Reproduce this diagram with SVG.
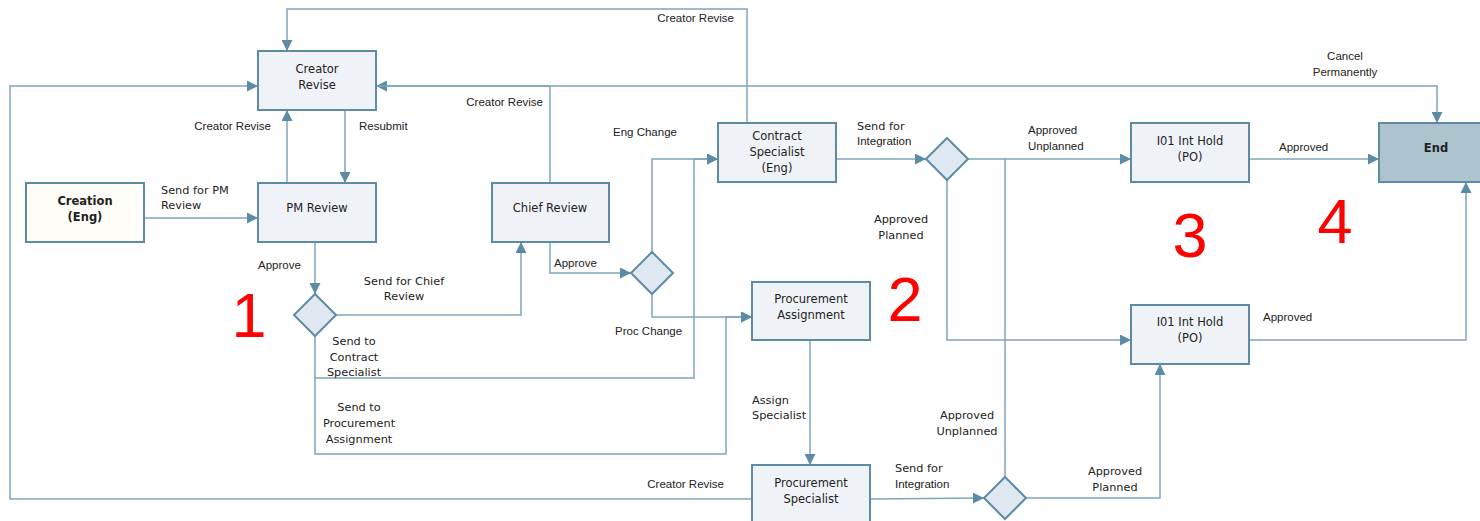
<svg xmlns="http://www.w3.org/2000/svg" width="1480" height="521" viewBox="0 0 1480 521">
<style>
.n rect{fill:#eff3f8;stroke:#5e8ba4;stroke-width:2}
.n polygon{fill:#dfe8f0;stroke:#5e8ba4;stroke-width:2}
.nt{font-family:"DejaVu Sans",Verdana,sans-serif;font-size:11.5px;fill:#222;text-anchor:middle}
.b{font-weight:bold}
.c path{fill:none;stroke:#7fa5bb;stroke-width:1.5}
.la{font-family:"Liberation Sans",Arial,sans-serif;font-size:11.5px;fill:#222}
.lv{font-family:"DejaVu Sans",Verdana,sans-serif;font-size:11.3px;fill:#222}
.m{text-anchor:middle}
.e{text-anchor:end}
.red{font-family:"Liberation Sans",Arial,sans-serif;font-size:63px;fill:#ff0000;text-anchor:middle}
</style>
<defs>
<marker id="arr" viewBox="0 0 10 10" refX="10" refY="5" markerWidth="11" markerHeight="11" markerUnits="userSpaceOnUse" orient="auto"><path d="M0,0 L10,5 L0,10 z" fill="#5b8ba5"/></marker>
</defs>
<rect width="1480" height="521" fill="#ffffff"/>
<g class="c" id="connectors">
<path d="M747,123 V9 H287 V51" marker-end="url(#arr)"/>
<path d="M550,183 V86 H376" marker-end="url(#arr)"/>
<path d="M376,86 H1437 V123" marker-end="url(#arr)"/>
<path d="M752,499 H10 V86 H258" marker-end="url(#arr)"/>
<path d="M345,110 V183" marker-end="url(#arr)"/>
<path d="M287,183 V110" marker-end="url(#arr)"/>
<path d="M144,218 H258" marker-end="url(#arr)"/>
<path d="M315,242 V294" marker-end="url(#arr)"/>
<path d="M336,315 H521 V242" marker-end="url(#arr)"/>
<path d="M315,336 V378 H694 V159 H718" marker-end="url(#arr)"/>
<path d="M315,378 V454 H726 V317 H752" marker-end="url(#arr)"/>
<path d="M550,242 V273 H631" marker-end="url(#arr)"/>
<path d="M652,294 V317 H752" marker-end="url(#arr)"/>
<path d="M652,252 V159 H718" marker-end="url(#arr)"/>
<path d="M836,159 H926" marker-end="url(#arr)"/>
<path d="M968,159 H1131" marker-end="url(#arr)"/>
<path d="M947,180 V340 H1131" marker-end="url(#arr)"/>
<path d="M1249,159 H1379" marker-end="url(#arr)"/>
<path d="M1249,340 H1466 V182" marker-end="url(#arr)"/>
<path d="M810,340 V465" marker-end="url(#arr)"/>
<path d="M870,499 L984,498" marker-end="url(#arr)"/>
<path d="M1005,477 V159"/>
<path d="M1026,498 H1160 V364" marker-end="url(#arr)"/>
</g>
<g id="labels">
<text class="la e" x="734" y="22">Creator Revise</text>
<text class="la e" x="543" y="106">Creator Revise</text>
<text class="la m" x="1345" y="60">Cancel</text>
<text class="la m" x="1345" y="76">Permanently</text>
<text class="la e" x="271" y="130">Creator Revise</text>
<text class="la" x="359" y="130">Resubmit</text>
<text class="lv" x="161" y="194">Send for PM</text>
<text class="lv" x="161" y="209">Review</text>
<text class="la" x="258" y="269">Approve</text>
<text class="lv m" x="404" y="285">Send for Chief</text>
<text class="lv m" x="404" y="300">Review</text>
<text class="lv m" x="354" y="345">Send to</text>
<text class="lv m" x="354" y="361">Contract</text>
<text class="lv m" x="354" y="376">Specialist</text>
<text class="lv m" x="359" y="411">Send to</text>
<text class="lv m" x="359" y="427">Procurement</text>
<text class="lv m" x="359" y="443">Assignment</text>
<text class="la" x="554" y="267">Approve</text>
<text class="la" x="613" y="136">Eng Change</text>
<text class="la" x="615" y="335">Proc Change</text>
<text class="lv" x="857" y="130">Send for</text>
<text class="la" x="857" y="145">Integration</text>
<text class="la" x="1028" y="134">Approved</text>
<text class="la" x="1028" y="150">Unplanned</text>
<text class="lv m" x="901" y="223">Approved</text>
<text class="lv m" x="901" y="239">Planned</text>
<text class="la" x="1279" y="151">Approved</text>
<text class="la" x="1263" y="321">Approved</text>
<text class="lv" x="752" y="404">Assign</text>
<text class="lv" x="752" y="419">Specialist</text>
<text class="lv" x="895" y="472">Send for</text>
<text class="la" x="895" y="488">Integration</text>
<text class="lv m" x="967" y="419">Approved</text>
<text class="lv m" x="967" y="435">Unplanned</text>
<text class="lv m" x="1115" y="475">Approved</text>
<text class="lv m" x="1115" y="491">Planned</text>
<text class="la e" x="724" y="488">Creator Revise</text>
</g>
<g class="n" id="creator-revise"><rect x="258" y="51" width="118" height="59"/><text class="nt" x="317" y="73">Creator</text><text class="nt" x="317" y="89">Revise</text></g>
<g class="n" id="pm-review"><rect x="258" y="183" width="118" height="59"/><text class="nt" x="317" y="212">PM Review</text></g>
<g class="n" id="creation"><rect x="26" y="183" width="118" height="59" style="fill:#fffdf7"/><text class="nt b" x="85" y="205">Creation</text><text class="nt b" x="85" y="221">(Eng)</text></g>
<g class="n" id="chief-review"><rect x="492" y="183" width="117" height="59"/><text class="nt" x="550" y="212">Chief Review</text></g>
<g class="n" id="contract-specialist"><rect x="718" y="123" width="118" height="59"/><text class="nt" x="777" y="140">Contract</text><text class="nt" x="777" y="156">Specialist</text><text class="nt" x="777" y="172">(Eng)</text></g>
<g class="n" id="hold-top"><rect x="1131" y="123" width="118" height="59"/><text class="nt" x="1190" y="145">I01 Int Hold</text><text class="nt" x="1190" y="161">(PO)</text></g>
<g class="n" id="end"><rect x="1379" y="123" width="118" height="59" style="fill:#adc3cd"/><text class="nt b" x="1436" y="152">End</text></g>
<g class="n" id="proc-assignment"><rect x="752" y="282" width="118" height="58"/><text class="nt" x="811" y="303">Procurement</text><text class="nt" x="811" y="319">Assignment</text></g>
<g class="n" id="hold-bottom"><rect x="1131" y="305" width="118" height="59"/><text class="nt" x="1190" y="326">I01 Int Hold</text><text class="nt" x="1190" y="342">(PO)</text></g>
<g class="n" id="proc-specialist"><rect x="752" y="465" width="118" height="60"/><text class="nt" x="811" y="487">Procurement</text><text class="nt" x="811" y="503">Specialist</text></g>
<g class="n" id="gw1"><polygon points="315,294 336,315 315,336 294,315"/></g>
<g class="n" id="gw2"><polygon points="947,138 968,159 947,180 926,159"/></g>
<g class="n" id="gw3"><polygon points="652,252 673,273 652,294 631,273"/></g>
<g class="n" id="gw4"><polygon points="1005,477 1026,498 1005,519 984,498"/></g>
<g id="numbers">
<text class="red" x="249" y="337">1</text>
<text class="red" x="905" y="321">2</text>
<text class="red" x="1190" y="257">3</text>
<text class="red" x="1335" y="243">4</text>
</g>
</svg>
